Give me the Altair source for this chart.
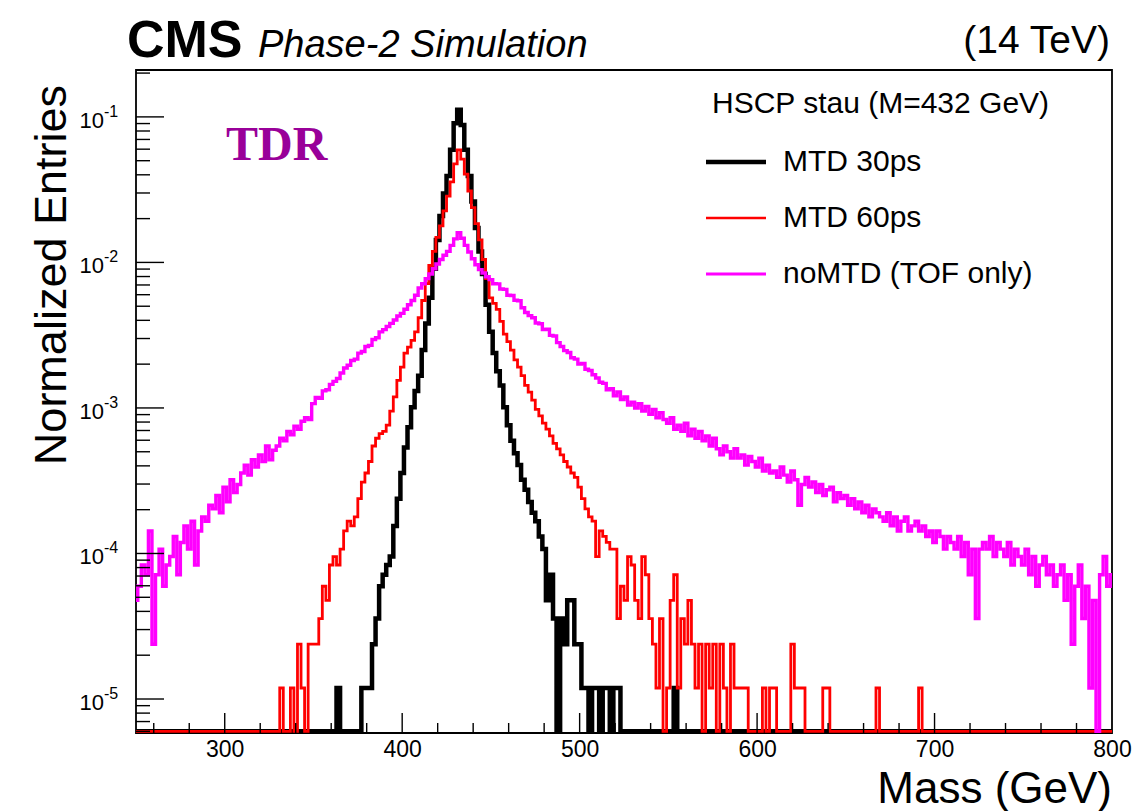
import altair as alt
import pandas as pd

# ---------------- data ----------------
BIN_LOW = 249          # lower edge of first 2-GeV bin (GeV)
BIN_WIDTH = 2          # GeV
N_ENTRIES = 84000      # normalisation (one entry ~ 1.19e-5)
ZERO_LEVEL = 6.0e-6    # empty bins are drawn on the bottom of the frame

# entries per bin, bin centres 250, 252, ..., 800
BLACK_COUNTS = [0] * 57 + [
    1, 0, 0, 0, 0, 0, 0, 1, 1, 1,
    2, 3, 5, 6, 7, 8, 13, 20, 30, 45,
    62, 85, 110, 140, 210, 320, 480, 760, 1200, 1750,
    2500, 3300, 5000, 7600, 9400, 7400, 5000, 3300, 2200, 1450,
    1000, 700, 430, 280, 200, 150, 120, 85, 64, 50,
    41, 34, 27, 23, 19, 16, 14, 11, 9, 4,
    6, 3, 0, 3, 2, 4, 4, 2, 2, 1,
    1, 0, 1, 1, 0, 1, 1, 0, 1, 1,
    0, 0, 0, 0, 0, 0, 0, 0, 0, 0, 0, 0, 0, 0, 0, 1,
] + [0] * 123

RED_COUNTS = [0] * 41 + [
    1, 0, 0, 1, 0, 2, 1, 0, 2, 2,
    2, 3, 5, 4, 7, 8, 7, 9, 12, 14,
    13, 15, 20, 26, 30, 36, 46, 52, 56, 58,
    64, 80, 100, 130, 160, 200, 220, 245, 280, 350,
    460, 600, 800, 1000, 1250, 1500, 1900, 2400, 3000, 4000,
    4980, 4300, 3400, 2600, 2000, 1550, 1200, 880, 650, 480,
    440, 400, 330, 270, 240, 210, 180, 160, 140, 120,
    108, 95, 82, 74, 66, 60, 54, 48, 44, 40,
    36, 33, 30, 28, 24, 20, 17, 15, 14, 8,
    12, 11, 10, 9, 9, 3, 5, 4, 8, 7,
    4, 3, 8, 6, 3, 2, 1, 3, 0, 1,
    4, 6, 1, 3, 2, 4, 2, 1, 2, 0,
    2, 1, 2, 0, 2, 1, 0, 2, 1, 1,
    1, 1, 0, 0, 0, 0, 1, 0, 1, 1,
    0, 0, 0, 0, 2, 1, 1, 1, 0, 0,
    0, 0, 0, 1, 1, 0, 0, 0, 0, 0,
    0, 0, 0, 0, 0, 0, 0, 0, 1, 0,
    0, 0, 0, 0, 0, 0, 0, 0, 0, 0,
    1,
] + [0] * 54

MAGENTA_COUNTS = [
    4, 5, 7, 6, 12, 2, 6, 9, 5, 7,
    8, 11, 6, 10, 13, 9, 14, 7, 12, 15,
    14, 18, 17, 21, 16, 24, 19, 27, 22, 25,
    30, 34, 29, 37, 33, 40, 36, 46, 37, 43,
    46, 52, 50, 58, 55, 63, 60, 68, 72, 70,
    90, 99, 98, 110, 112, 122, 128, 134, 146, 158,
    165, 178, 182, 200, 205, 222, 226, 248, 255, 280,
    290, 305, 320, 338, 360, 375, 400, 430, 460, 500,
    560, 600, 650, 700, 760, 820, 880, 940, 1000, 1100,
    1220, 1346, 1230, 1100, 990, 890, 810, 750, 710, 670,
    640, 600, 598, 552, 548, 500, 498, 462, 458, 410,
    380, 362, 350, 322, 318, 290, 292, 265, 262, 236,
    222, 208, 202, 186, 182, 168, 170, 155, 152, 142,
    135, 126, 124, 112, 114, 102, 108, 96, 100, 88,
    92, 84, 90, 80, 86, 76, 82, 72, 78, 70,
    66, 72, 60, 64, 58, 66, 54, 60, 52, 58,
    50, 54, 46, 52, 44, 40, 46, 42, 38, 44,
    38, 40, 34, 39, 36, 33, 38, 31, 34, 30,
    31, 28, 33, 29, 26, 31, 27, 18, 25, 28,
    24, 26, 22, 25, 21, 23, 24, 19, 22, 20,
    21, 18, 20, 17, 19, 16, 18, 15, 17, 16,
    15, 14, 16, 13, 15, 12, 14, 15, 12, 13,
    14, 12, 13, 11, 12, 10, 12, 11, 9, 11,
    10, 9, 11, 8, 10, 6, 9, 3, 9, 10,
    9, 11, 8, 10, 9, 8, 10, 7, 9, 8,
    7, 9, 6, 8, 5, 7, 8, 6, 7, 5,
    6, 7, 4, 6, 2, 5, 7, 3, 5, 1,
    4, 0, 6, 8, 5, 6,
]

SERIES = ["MTD 30ps", "MTD 60ps", "noMTD (TOF only)"]
SERIES_COUNTS = [BLACK_COUNTS, RED_COUNTS, MAGENTA_COUNTS]
COLORS = ["#000000", "#ff0000", "#ff00ff"]
LINE_WIDTHS = [4.5, 2.8, 3.4]
LEGEND_WIDTHS = [4.5, 2.5, 2.8]

X_DOMAIN = [250, 800]
Y_DOMAIN = [5.84e-6, 0.21]
X_MAJOR = [300, 400, 500, 600, 700, 800]
X_MINOR = [260, 280, 320, 340, 360, 380, 420, 440, 460, 480, 520, 540, 560, 580,
           620, 640, 660, 680, 720, 740, 760, 780]
Y_DECADES = [-1, -2, -3, -4, -5]
Y_MINOR_MULT = [2, 3, 4, 5, 6, 7, 8, 9]
Y_MINOR_DECADES = [-6, -5, -4, -3, -2, -1]

LEGEND_HEADER = "HSCP stau (M=432 GeV)"
X_TITLE = "Mass (GeV)"
Y_TITLE = "Normalized Entries"

W, H = 976, 663
FONT = "Liberation Sans"

# ---------------- build tables ----------------
def hist_frame(counts):
    rows = []
    for k, c in enumerate(counts):
        v = c / N_ENTRIES if c > 0 else ZERO_LEVEL
        rows.append({"m": BIN_LOW + BIN_WIDTH * k, "v": v})
    last = rows[-1]["v"]
    rows.append({"m": BIN_LOW + BIN_WIDTH * len(counts), "v": last})
    return pd.DataFrame(rows)

xscale = alt.Scale(domain=X_DOMAIN, nice=False, zero=False)
yscale = alt.Scale(type="log", domain=Y_DOMAIN, nice=False)
xaxis = alt.Axis(values=X_MAJOR, ticks=False, domain=False, grid=False, title=None,
                 labelFont=FONT, labelFontSize=23, labelColor="black", labelPadding=5,
                 format="d", labelFlush=False)

def X(field="m"):
    return alt.X(f"{field}:Q", scale=xscale, axis=xaxis)

def Y(field="v"):
    return alt.Y(f"{field}:Q", scale=yscale, axis=None)

layers = []
for name, counts, col, lw in zip(SERIES, SERIES_COUNTS, COLORS, LINE_WIDTHS):
    layers.append(
        alt.Chart(hist_frame(counts)).mark_line(
            interpolate="step-after", color=col, strokeWidth=lw, clip=True,
            strokeJoin="miter", strokeCap="butt"
        ).encode(x=X(), y=Y())
    )

# ticks (ROOT style, inside the frame)
xmaj = pd.DataFrame({"m": X_MAJOR[:-1]})
xmin = pd.DataFrame({"m": X_MINOR})
layers.append(alt.Chart(xmaj).mark_rule(color="black", strokeWidth=1.4).encode(
    x=X(), y=alt.value(H), y2=alt.value(H - 20)))
layers.append(alt.Chart(xmin).mark_rule(color="black", strokeWidth=1.4).encode(
    x=X(), y=alt.value(H), y2=alt.value(H - 10)))

ymaj = pd.DataFrame({"v": [10.0 ** e for e in Y_DECADES]})
yminv = [k * 10.0 ** e for e in Y_MINOR_DECADES for k in Y_MINOR_MULT]
yminv = [v for v in yminv if Y_DOMAIN[0] <= v <= Y_DOMAIN[1]]
ymin = pd.DataFrame({"v": yminv})
layers.append(alt.Chart(ymaj).mark_rule(color="black", strokeWidth=1.4).encode(
    y=Y(), x=alt.value(0), x2=alt.value(28)))
layers.append(alt.Chart(ymin).mark_rule(color="black", strokeWidth=1.4).encode(
    y=Y(), x=alt.value(0), x2=alt.value(14)))

# y tick labels 10^{e}
ylab = pd.DataFrame({"v": [10.0 ** e for e in Y_DECADES],
                     "base": ["10"] * len(Y_DECADES),
                     "exp": [str(e) for e in Y_DECADES]})
layers.append(alt.Chart(ylab).mark_text(align="right", baseline="middle", font=FONT,
                                        fontSize=22, color="black", dy=4).encode(
    y=Y(), x=alt.value(-32), text="base:N"))
layers.append(alt.Chart(ylab).mark_text(align="left", baseline="middle", font=FONT,
                                        fontSize=16, color="black", dy=-5).encode(
    y=Y(), x=alt.value(-32), text="exp:N"))

def label(text, x, y, size, align="left", baseline="alphabetic", weight="normal",
          style="normal", font=FONT, color="black", angle=0):
    kw = dict(align=align, baseline=baseline, fontSize=size, fontWeight=weight,
              fontStyle=style, font=font, color=color)
    if angle:
        kw["angle"] = angle
    return alt.Chart(pd.DataFrame({"t": [text]})).mark_text(**kw).encode(
        x=alt.value(x), y=alt.value(y), text="t:N")

layers.append(label("CMS", -9, -13, 52, weight="bold"))
layers.append(label("Phase-2 Simulation", 122, -13, 38, style="italic"))
layers.append(label("(14 TeV)", 974, -17, 39, align="right"))
layers.append(label("TDR", 90, 90, 48, weight="bold", font="Liberation Serif", color="#990099"))
layers.append(label(X_TITLE, 976, 733, 44, align="right"))
layers.append(label(Y_TITLE, -70, 15, 45, align="right", angle=270))

# legend
layers.append(label(LEGEND_HEADER, 576, 43, 30))
leg_y = [92, 148, 204]
for name, col, lw, yy in zip(SERIES, COLORS, LEGEND_WIDTHS, leg_y):
    layers.append(alt.Chart(pd.DataFrame({"t": [name]})).mark_rule(
        color=col, strokeWidth=lw).encode(x=alt.value(570), x2=alt.value(630), y=alt.value(yy)))
    layers.append(label(name, 647, yy, 30, baseline="middle"))

chart = alt.layer(*layers).properties(
    width=W, height=H,
    autosize=alt.AutoSizeParams(type="none"),
    padding={"left": 136, "top": 70, "right": 24, "bottom": 78},
    background="white",
).configure_view(stroke="black", strokeWidth=1.8)

chart.save("out.html", embed_options={"renderer": "svg", "actions": False})
